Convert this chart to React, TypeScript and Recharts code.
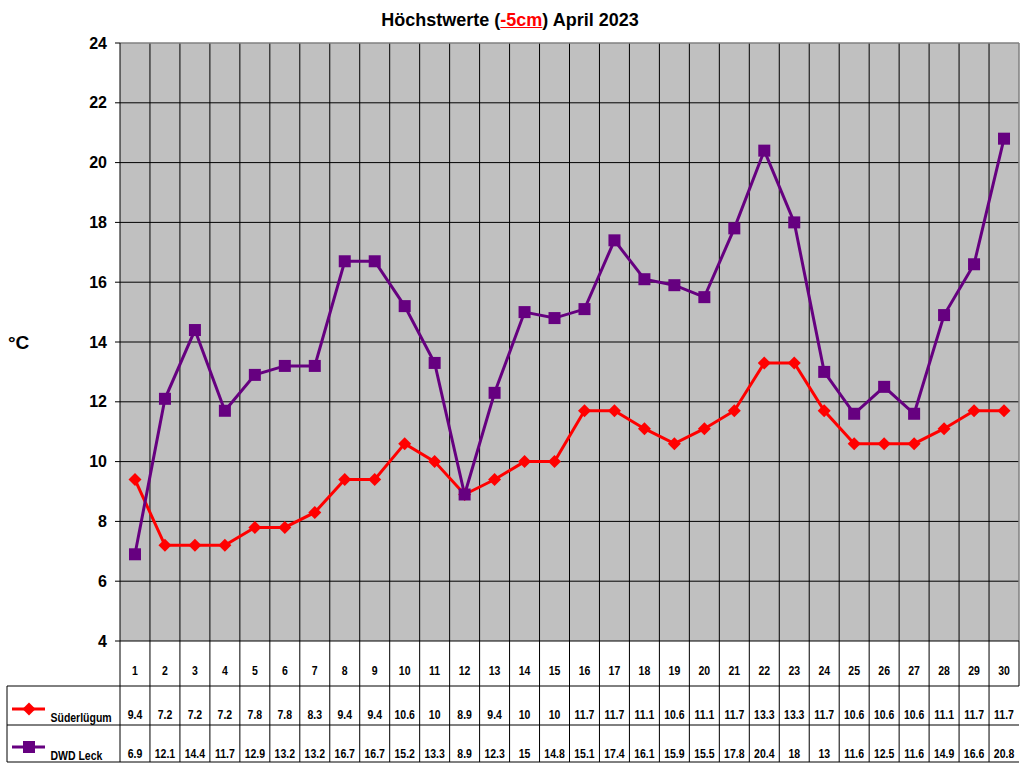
import React from 'react';
import { LineChart, Line, XAxis, YAxis, CartesianGrid, ReferenceLine } from 'recharts';

const days = [1, 2, 3, 4, 5, 6, 7, 8, 9, 10, 11, 12, 13, 14, 15, 16, 17, 18, 19, 20, 21, 22, 23, 24, 25, 26, 27, 28, 29, 30];
const suederluegum = [9.4, 7.2, 7.2, 7.2, 7.8, 7.8, 8.3, 9.4, 9.4, 10.6, 10, 8.9, 9.4, 10, 10, 11.7, 11.7, 11.1, 10.6, 11.1, 11.7, 13.3, 13.3, 11.7, 10.6, 10.6, 10.6, 11.1, 11.7, 11.7];
const dwdLeck = [6.9, 12.1, 14.4, 11.7, 12.9, 13.2, 13.2, 16.7, 16.7, 15.2, 13.3, 8.9, 12.3, 15, 14.8, 15.1, 17.4, 16.1, 15.9, 15.5, 17.8, 20.4, 18, 13, 11.6, 12.5, 11.6, 14.9, 16.6, 20.8];
const yTicks = [4, 6, 8, 10, 12, 14, 16, 18, 20, 22, 24];
const seriesNames = ['Süderlügum', 'DWD Leck'];
const titleParts = ['Höchstwerte (', '-5cm', ') April 2023'];

const W = 1024;
const H = 768;
const Y_AXIS_W = 120;
const MARGIN = { top: 43, right: 5, bottom: 0, left: 0 };
const X_AXIS_H = 127;
const PLOT_W = W - Y_AXIS_W - MARGIN.right - MARGIN.left;
const CELL_W = PLOT_W / days.length;
const RED = '#ff0000';
const PURPLE = '#660080';
const FONT = '"Liberation Sans", Arial, sans-serif';

const data = days.map((d, i) => ({ day: d, sud: suederluegum[i], dwd: dwdLeck[i] }));
const boundaries = [...days.map((d) => d - 0.5), days[days.length - 1] + 0.5];

const ROW1 = 45; // day row height
const ROW2 = 84; // bottom of Süderlügum row
const ROW3 = 121; // bottom of DWD row
const LEGEND_LEFT = 113;

const diamondPts = (cx: number, cy: number, r: number) =>
  `${cx},${cy - r} ${cx + r},${cy} ${cx},${cy + r} ${cx - r},${cy}`;

const DiamondDot = (p: any) => {
  const { cx, cy, index } = p;
  if (cx == null || cy == null) return <g key={`d-${index}`} />;
  return <polygon key={`d-${index}`} points={diamondPts(cx, cy, 6.5)} fill={RED} />;
};

const SquareDot = (p: any) => {
  const { cx, cy, index } = p;
  if (cx == null || cy == null) return <g key={`s-${index}`} />;
  return <rect key={`s-${index}`} x={cx - 6} y={cy - 6} width={12} height={12} fill={PURPLE} />;
};

const CellText = ({ x, y, children, anchor = 'middle' }: any) => (
  <text
    x={0}
    y={0}
    transform={`translate(${x},${y}) scale(0.82,1)`}
    textAnchor={anchor}
    fontFamily={FONT}
    fontWeight="bold"
    fontSize={12.8}
    fill="#000"
  >
    {children}
  </text>
);

const TableTick = (props: any) => {
  const { x, y, payload } = props;
  const v = payload.value;
  const isFirst = v === boundaries[0];
  const isLast = v === boundaries[boundaries.length - 1];
  const dayIdx = days.indexOf(v + 0.5);
  const cx = x + CELL_W / 2;
  return (
    <g>
      <line x1={x} y1={y} x2={x} y2={y + (isLast ? ROW1 : ROW3)} stroke="#000" strokeWidth={1} />
      {isFirst && (
        <g>
          <line x1={x - LEGEND_LEFT} y1={y + ROW1} x2={x + PLOT_W} y2={y + ROW1} stroke="#000" />
          <line x1={x - LEGEND_LEFT} y1={y + ROW2} x2={x + PLOT_W} y2={y + ROW2} stroke="#000" />
          <line x1={x - LEGEND_LEFT} y1={y + ROW3} x2={x + PLOT_W} y2={y + ROW3} stroke="#000" />
          <line x1={x - LEGEND_LEFT} y1={y + ROW1} x2={x - LEGEND_LEFT} y2={y + ROW3} stroke="#000" />
          <line x1={x - 108} y1={y + 68} x2={x - 75} y2={y + 68} stroke={RED} strokeWidth={3} />
          <polygon points={diamondPts(x - 91, y + 68, 6.5)} fill={RED} />
          <CellText x={x - 69.5} y={y + 81} anchor="start">{seriesNames[0]}</CellText>
          <line x1={x - 108} y1={y + 106} x2={x - 75} y2={y + 106} stroke={PURPLE} strokeWidth={3} />
          <rect x={x - 97} y={y + 100} width={12} height={12} fill={PURPLE} />
          <CellText x={x - 69.5} y={y + 119} anchor="start">{seriesNames[1]}</CellText>
        </g>
      )}
      {dayIdx >= 0 && (
        <g>
          <CellText x={cx} y={y + 34}>{String(days[dayIdx])}</CellText>
          <CellText x={cx} y={y + 78}>{String(suederluegum[dayIdx])}</CellText>
          <CellText x={cx} y={y + 117}>{String(dwdLeck[dayIdx])}</CellText>
        </g>
      )}
    </g>
  );
};

export default function App() {
  return (
    <div style={{ position: 'absolute', left: 0, top: 0, width: W, height: H, background: '#fff' }}>
      <div
        style={{
          position: 'absolute',
          top: 10,
          left: 0,
          width: 1020,
          textAlign: 'center',
          fontFamily: FONT,
          fontWeight: 'bold',
          fontSize: 18,
          lineHeight: '20px',
          color: '#000',
        }}
      >
        {titleParts[0]}
        <span style={{ color: RED, textDecoration: 'underline' }}>{titleParts[1]}</span>
        {titleParts[2]}
      </div>
      <LineChart width={W} height={H} data={data} margin={MARGIN}>
        <CartesianGrid
          fill="#c0c0c0"
          stroke="#000"
          strokeWidth={1}
          verticalValues={boundaries.slice(1, -1)}
          horizontalValues={yTicks.slice(1, -1)}
        />
        <XAxis
          dataKey="day"
          type="number"
          domain={[boundaries[0], boundaries[boundaries.length - 1]]}
          ticks={boundaries}
          interval={0}
          allowDataOverflow
          height={X_AXIS_H}
          tickLine={false}
          tickSize={0}
          tickMargin={0}
          axisLine={{ stroke: '#000', strokeWidth: 1 }}
          tick={<TableTick />}
        />
        <YAxis
          type="number"
          domain={[4, 24]}
          ticks={yTicks}
          interval={0}
          width={Y_AXIS_W}
          tickSize={5}
          tickMargin={8}
          axisLine={{ stroke: '#000', strokeWidth: 1 }}
          tickLine={{ stroke: '#000', strokeWidth: 1 }}
          tick={{ fill: '#000', fontFamily: FONT, fontWeight: 'bold', fontSize: 16 }}
          label={{
            value: '°C',
            position: 'insideLeft',
            offset: 8,
            style: { fill: '#000', fontFamily: FONT, fontWeight: 'bold', fontSize: 19 },
          }}
        />
        <ReferenceLine y={24} stroke="#808080" strokeWidth={1.5} />
        <ReferenceLine x={boundaries[boundaries.length - 1]} stroke="#808080" strokeWidth={1.5} />
        <Line
          dataKey="sud"
          stroke={RED}
          strokeWidth={3}
          dot={DiamondDot}
          activeDot={false}
          isAnimationActive={false}
        />
        <Line
          dataKey="dwd"
          stroke={PURPLE}
          strokeWidth={3}
          dot={SquareDot}
          activeDot={false}
          isAnimationActive={false}
        />
      </LineChart>
    </div>
  );
}
